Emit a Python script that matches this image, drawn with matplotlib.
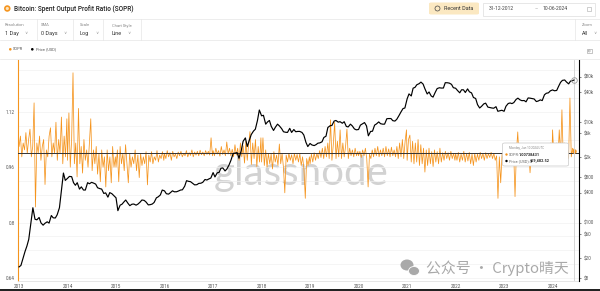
import pandas as pd
import matplotlib
matplotlib.use("Agg")
import matplotlib.pyplot as plt
import matplotlib.dates as mdates
from matplotlib.ticker import MultipleLocator, FixedLocator, FixedFormatter, NullFormatter
from matplotlib.patches import FancyBboxPatch, Rectangle, Ellipse
from matplotlib.lines import Line2D

plt.rcParams['font.family'] = ['Roboto', 'DejaVu Sans']

ORANGE = '#f5941d'

# SOPR, roughly every 10 days, one list per year
sopr_2013 = [1.02, 1.05, 0.99, 1.03, 1.01, 1.06, 1.00, 1.04, 1.07, 0.99, 1.02, 1.146,
             0.845, 1.03, 1.00, 1.05, 0.98, 1.02, 1.04, 0.91, 1.01, 0.99, 1.05, 1.074,
             0.99, 1.03, 1.00, 1.09, 0.98, 1.04, 1.00, 1.105, 0.97, 1.05, 0.99, 1.10]
sopr_2014 = [0.98, 1.117, 0.96, 1.04, 1.233, 0.97, 1.03, 0.932, 1.13, 0.97, 1.02, 0.943,
             1.04, 0.98, 1.01, 0.96, 1.03, 1.10, 0.95, 1.01, 0.97, 1.02, 0.94, 1.00,
             0.918, 1.01, 0.96, 0.99, 0.903, 1.01, 0.95, 0.99, 0.915, 1.02, 0.96, 0.99]
sopr_2015 = [0.96, 1.01, 0.918, 1.02, 0.97, 1.00, 0.95, 1.025, 0.97, 0.915, 1.00, 0.96,
             0.99, 0.97, 1.01, 0.95, 0.995, 0.93, 1.00, 0.965, 0.99, 0.97, 1.005, 0.909,
             0.995, 0.975, 1.005, 0.97, 0.99, 0.98, 1.008, 0.975, 0.995, 0.985, 1.005, 0.98]
sopr_2016 = [1.0, 0.985, 1.008, 0.99, 1.002, 0.98, 1.006, 0.99, 0.998, 0.985, 1.004, 0.993,
             1.006, 0.99, 1.0, 0.993, 1.008, 0.99, 1.002, 0.994, 1.01, 0.99, 1.004, 0.995,
             1.006, 0.993, 1.009, 0.996, 1.004, 0.993, 1.008, 0.997, 1.006, 0.995, 1.045, 0.993]
sopr_2017 = [1.008, 0.993, 1.015, 0.998, 1.008, 0.992, 1.02, 0.997, 1.01, 0.993, 1.033, 0.998,
             1.015, 0.993, 1.012, 0.99, 1.025, 0.995, 1.015, 0.98, 1.03, 0.99, 1.022, 0.972,
             1.035, 0.98, 1.025, 1.063, 0.968, 1.03, 0.985, 1.04, 0.962, 1.02, 0.975, 1.045]
sopr_2018 = [0.975, 1.045, 0.965, 1.01, 0.96, 1.0, 0.97, 0.998, 0.955, 1.005, 0.975, 0.995,
             0.965, 1.027, 0.97, 1.0, 0.96, 0.886, 0.995, 0.975, 1.0, 0.98, 0.996, 0.97,
             1.0, 0.98, 0.997, 0.975, 0.999, 0.965, 0.99, 0.955, 0.87, 0.985, 0.965, 0.99]
sopr_2019 = [0.97, 0.998, 0.975, 1.002, 0.98, 1.0, 0.985, 1.008, 0.988, 1.015, 0.985, 1.02,
             0.99, 1.03, 0.985, 1.097, 0.98, 1.025, 1.09, 0.985, 1.035, 0.99, 1.068, 0.985,
             1.03, 0.99, 1.02, 1.07, 0.985, 1.015, 0.993, 1.01, 0.99, 1.015, 0.993, 1.006]
sopr_2020 = [0.993, 1.006, 0.988, 1.01, 0.993, 1.015, 0.985, 0.903, 0.998, 0.985, 1.01, 0.99,
             1.015, 0.993, 1.02, 0.99, 1.01, 0.993, 1.015, 0.99, 1.02, 0.993, 1.013, 0.99,
             1.018, 0.993, 1.01, 0.99, 1.02, 0.985, 1.03, 0.99, 1.04, 0.985, 1.035, 1.068]
sopr_2021 = [0.98, 1.04, 1.053, 0.975, 1.035, 0.97, 1.03, 0.975, 1.04, 0.965, 1.025, 0.97,
             1.015, 0.946, 1.01, 0.965, 1.015, 0.97, 1.005, 0.962, 1.01, 0.975, 1.005, 0.97,
             1.015, 0.975, 1.002, 0.98, 1.006, 0.985, 1.002, 0.98, 1.006, 0.985, 1.0, 0.98]
sopr_2022 = [1.0, 0.98, 1.003, 0.975, 0.998, 0.98, 1.006, 0.975, 1.0, 0.978, 1.003, 0.97,
             0.998, 0.965, 1.0, 0.975, 0.998, 0.98, 1.003, 0.985, 1.0, 0.98, 1.002, 0.985,
             0.999, 0.988, 1.003, 0.985, 1.0, 0.98, 0.993, 0.87, 0.99, 0.915, 0.998, 0.975]
sopr_2023 = [0.985, 1.006, 0.975, 1.01, 0.97, 1.005, 0.975, 1.007, 0.875, 1.003, 1.062, 0.98,
             1.01, 0.985, 1.007, 0.988, 1.015, 0.988, 1.006, 0.944, 1.008, 0.99, 1.012, 0.993,
             1.007, 0.99, 1.015, 0.993, 1.02, 0.99, 1.015, 0.993, 1.025, 0.99, 1.03, 0.993]
sopr_2024 = [1.068, 0.99, 1.02, 1.03, 0.985, 1.068, 0.99, 1.126, 0.985, 1.03, 0.99, 1.02,
             0.985, 1.16, 0.99, 1.015, 1.00738431]

# BTC price in USD, on the 1st and 15th of each month
price_2013 = [13.3, 14.2, 20.4, 27, 34.5, 47, 104, 200, 118, 115, 128, 100,
              90, 98, 105, 99, 140, 126, 125, 145, 200, 420, 980, 700]
price_2014 = [770, 840, 830, 630, 560, 630, 470, 520, 450, 450, 630, 600,
              640, 620, 590, 500, 480, 470, 385, 395, 325, 400, 380, 350]
price_2015 = [315, 175, 225, 235, 260, 285, 245, 220, 235, 237, 225, 236,
              258, 285, 280, 260, 228, 230, 237, 255, 315, 330, 360, 450]
price_2016 = [433, 380, 373, 400, 434, 415, 416, 430, 450, 455, 536, 690,
              670, 660, 610, 570, 575, 610, 615, 640, 730, 712, 750, 780]
price_2017 = [1000, 820, 990, 1010, 1220, 1240, 1080, 1180, 1420, 1750, 2400, 2450,
              2500, 1930, 2750, 4200, 4900, 3300, 4400, 5700, 6700, 7300, 10900, 17600]
price_2018 = [13500, 13800, 9200, 10200, 10900, 8300, 6900, 8000, 9200, 8500, 7500, 6500,
              6350, 6300, 7600, 6300, 7200, 6500, 6600, 6600, 6300, 5600, 4000, 3300]
price_2019 = [3800, 3550, 3450, 3600, 3850, 3900, 4100, 5000, 5300, 7900, 8550, 8700,
              10600, 10900, 10100, 10300, 9600, 10300, 8300, 8100, 9200, 8500, 7400, 7100]
price_2020 = [7200, 8800, 9400, 9900, 8500, 5400, 6600, 6650, 8800, 9300, 10200, 9400,
              9200, 9200, 11800, 11900, 11900, 10800, 10600, 11500, 13700, 16000, 18800, 19300]
price_2021 = [29400, 36800, 33500, 47900, 49600, 56000, 58800, 63200, 57800, 46400, 36700, 40200,
              33500, 31800, 39800, 47000, 48800, 48100, 48200, 61500, 61300, 60300, 57000, 48900]
price_2022 = [47700, 43100, 38700, 44500, 44400, 39300, 46300, 40500, 38500, 31300, 29800, 22500,
              19300, 20800, 23300, 24100, 20100, 19700, 19300, 19100, 20500, 16600, 17000, 17400]
price_2023 = [16600, 20900, 23700, 24300, 23600, 24700, 28500, 30300, 28000, 27000, 27200, 25600,
              30600, 30300, 29700, 29200, 25900, 26600, 28000, 27100, 35400, 37900, 38700, 42300]
price_2024 = [44200, 42500, 43100, 51900, 62400, 68400, 69700, 63400, 58300, 66200, 67700]
last_date = '2024-06-10'
last_sopr = 1.00738431
last_price = 69482.52

years = list(range(2013, 2025))
sopr_lists = [sopr_2013, sopr_2014, sopr_2015, sopr_2016, sopr_2017, sopr_2018,
              sopr_2019, sopr_2020, sopr_2021, sopr_2022, sopr_2023, sopr_2024]
price_lists = [price_2013, price_2014, price_2015, price_2016, price_2017, price_2018,
               price_2019, price_2020, price_2021, price_2022, price_2023, price_2024]

sopr_parts = []
for y, vals in zip(years, sopr_lists):
    end = last_date if y == 2024 else f'{y}-12-27'
    idx = pd.date_range(f'{y}-01-01', end, periods=len(vals))
    sopr_parts.append(pd.Series(vals, index=idx))
sopr = pd.concat(sopr_parts)

price_parts = []
for y, vals in zip(years, price_lists):
    idx = pd.date_range(f'{y}-01-01', periods=len(vals), freq='SMS')
    price_parts.append(pd.Series(vals, index=idx))
price_parts.append(pd.Series([last_price], index=pd.to_datetime([last_date])))
price = pd.concat(price_parts)

W, H = 600, 291
fig = plt.figure(figsize=(W / 100, H / 100), dpi=100)


def fx(x):
    return x / W


def fy(y):
    return 1 - y / H


# ---- main chart
ax = fig.add_axes([fx(18), fy(281), (579 - 18) / W, (281 - 60) / H])
ax.plot(sopr.index, sopr.values, color=ORANGE, lw=0.55, zorder=2)
ax.axhline(1.0, color='#333333', lw=0.7, zorder=3)
ax.set_ylim(0.631, 1.27)
ax.set_xlim(pd.Timestamp('2012-12-24'), pd.Timestamp('2024-07-18'))
ax.yaxis.set_major_locator(FixedLocator([0.64, 0.8, 0.96, 1.12]))
ax.yaxis.set_major_formatter(FixedFormatter(['0.64', '0.8', '0.96', '1.12']))
ax.yaxis.set_minor_locator(MultipleLocator(0.04))
ax.grid(which='both', axis='y', color='#f1f1f1', lw=0.5, zorder=0)
ax.set_axisbelow(True)
ax.tick_params(axis='y', which='both', length=0, labelsize=3.3, colors='#555555', pad=2.2)
ax.xaxis.set_major_locator(mdates.YearLocator())
ax.xaxis.set_major_formatter(mdates.DateFormatter('%Y'))
ax.tick_params(axis='x', length=0, labelsize=3.3, colors='#555555', pad=2.5)
for s in ['top', 'right']:
    ax.spines[s].set_visible(False)
ax.spines['left'].set_color(ORANGE)
ax.spines['left'].set_linewidth(0.8)
ax.spines['bottom'].set_color('#e2e2e2')
ax.spines['bottom'].set_linewidth(0.6)
ax.plot([pd.Timestamp(last_date)], [last_sopr], 'o', color=ORANGE, ms=2.2, zorder=4)

# watermark behind the lines
ax.text(fx(301), fy(173), 'glassnode', transform=fig.transFigure, ha='center', va='center',
        fontsize=29, family='Lato', color='#d2d2d2', zorder=0.5)

ax2 = ax.twinx()
ax2.set_yscale('log')
ax2.plot(price.index, price.values, color='black', lw=0.85)
ax2.set_ylim(6.97, 174000)
pticks = [8, 20, 60, 100, 400, 800, 2000, 6000, 10000, 40000, 80000]
plabels = ['$8', '$20', '$60', '$100', '$400', '$800', '$2k', '$6k', '$10k', '$40k', '$80k']
ax2.yaxis.set_major_locator(FixedLocator(pticks))
ax2.yaxis.set_major_formatter(FixedFormatter(plabels))
ax2.yaxis.set_minor_formatter(NullFormatter())
ax2.tick_params(axis='y', which='minor', length=0)
ax2.tick_params(axis='y', which='major', length=1.5, width=0.5, labelsize=3.3,
                colors='#555555', pad=2)
for s in ['top', 'left', 'bottom']:
    ax2.spines[s].set_visible(False)
ax2.spines['right'].set_color('black')
ax2.spines['right'].set_linewidth(0.8)
ax2.axvline(pd.Timestamp(last_date), color='#cfcfcf', lw=0.6, zorder=1)
ax2.plot([pd.Timestamp(last_date)], [last_price], 'o', mfc='none', mec='#999999',
         ms=4, mew=0.6)

# ---- header
fig.patches.append(Ellipse((fx(7.3), fy(8.5)), 6.5 / W, 6.5 / H, transform=fig.transFigure,
                           facecolor=ORANGE, edgecolor='none'))
fig.patches.append(Ellipse((fx(7.3), fy(8.5)), 3.2 / W, 3.2 / H, transform=fig.transFigure,
                           facecolor='#fde3bd', edgecolor='none'))
fig.text(fx(14), fy(8.8), 'Bitcoin: Spent Output Profit Ratio (SOPR)', fontsize=4.7,
         fontweight='medium', color='#222222', va='center')

fig.patches.append(FancyBboxPatch((fx(429), fy(14.5)), 50 / W, 12 / H,
                                  boxstyle='round,pad=0,rounding_size=0.004',
                                  transform=fig.transFigure, facecolor='#fbe8c1',
                                  edgecolor='none'))
fig.patches.append(Ellipse((fx(437.5), fy(8.5)), 5 / W, 5 / H, transform=fig.transFigure,
                           facecolor='none', edgecolor='#444444', lw=0.5))
fig.text(fx(444), fy(8.6), 'Recent Data', fontsize=3.9, color='#333333', va='center')
fig.patches.append(Rectangle((fx(483), fy(15.5)), 112 / W, 13 / H, transform=fig.transFigure,
                             facecolor='white', edgecolor='#dddddd', lw=0.5))
fig.text(fx(488.5), fy(8.6), '31-12-2012', fontsize=3.6, color='#444444', va='center')
fig.text(fx(535), fy(8.6), '–', fontsize=3.6, color='#999999', va='center')
fig.text(fx(543), fy(8.6), '10-06-2024', fontsize=3.6, color='#444444', va='center')
fig.patches.append(Rectangle((fx(587), fy(11)), 4 / W, 4 / H, transform=fig.transFigure,
                             facecolor='none', edgecolor='#aaaaaa', lw=0.4))

for yy in [19, 40, 59.5]:
    fig.add_artist(Line2D([0, 1], [fy(yy), fy(yy)], color='#e6e6e6', lw=0.5,
                          transform=fig.transFigure))
for xx in [36.5, 73, 103, 141, 575]:
    fig.add_artist(Line2D([fx(xx), fx(xx)], [fy(19), fy(40)], color='#e6e6e6', lw=0.5,
                          transform=fig.transFigure))

controls = [(5, 'Resolution', '1 Day', 24), (41, 'SMA', '0 Days', 63),
            (80, 'Scale', 'Log', 95), (112, 'Chart Style', 'Line', 127),
            (582, 'Zoom', 'All', 593)]
for x0, lab, val, cx in controls:
    fig.text(fx(x0), fy(25.5), lab, fontsize=3.0, color='#888888', va='center')
    fig.text(fx(x0), fy(33.3), val, fontsize=4.0, color='#333333', va='center')
    fig.text(fx(cx), fy(33.3), '∨', fontsize=3.2, color='#999999', va='center',
             family='DejaVu Sans')

# legend
fig.patches.append(Ellipse((fx(10.3), fy(49.3)), 2.6 / W, 2.6 / H, transform=fig.transFigure,
                           facecolor=ORANGE, edgecolor='none'))
fig.text(fx(13.3), fy(49.3), 'SOPR', fontsize=2.9, color='#555555', va='center')
fig.patches.append(Ellipse((fx(32.3), fy(49.3)), 2.6 / W, 2.6 / H, transform=fig.transFigure,
                           facecolor='black', edgecolor='none'))
fig.text(fx(35.5), fy(49.3), 'Price (USD)', fontsize=2.9, color='#555555', va='center')
fig.patches.append(Rectangle((fx(586.5), fy(53)), 5.5 / W, 4 / H, transform=fig.transFigure,
                             facecolor='none', edgecolor='#999999', lw=0.4))
fig.patches.append(Ellipse((fx(589.2), fy(51)), 2 / W, 2 / H, transform=fig.transFigure,
                           facecolor='none', edgecolor='#999999', lw=0.4))

# tooltip
fig.patches.append(FancyBboxPatch((fx(502.5), fy(166)), 66 / W, 23 / H,
                                  boxstyle='round,pad=0,rounding_size=0.004',
                                  transform=fig.transFigure, facecolor='white',
                                  edgecolor='#c8c8c8', lw=0.5, zorder=5))
fig.text(fx(509), fy(147.5), 'Monday, Jun 10 2024 UTC', fontsize=2.2, color='#888888',
         va='center', zorder=6)
fig.patches.append(Ellipse((fx(506.5), fy(154.5)), 2.4 / W, 2.4 / H, transform=fig.transFigure,
                           facecolor=ORANGE, edgecolor='none', zorder=6))
fig.text(fx(509), fy(154.5), 'SOPR:', fontsize=2.8, color='#666666', va='center', zorder=6)
fig.text(fx(519), fy(154.5), '1.00738431', fontsize=2.8, fontweight='bold', color='#222222',
         va='center', zorder=6)
fig.patches.append(Ellipse((fx(506.5), fy(161)), 2.4 / W, 2.4 / H, transform=fig.transFigure,
                           facecolor='black', edgecolor='none', zorder=6))
fig.text(fx(509), fy(161), 'Price (USD):', fontsize=2.8, color='#666666', va='center', zorder=6)
fig.text(fx(529.5), fy(161), '$69,482.52', fontsize=2.8, fontweight='bold', color='#222222',
         va='center', zorder=6)

# wechat watermark
fig.patches.append(Ellipse((fx(407), fy(265)), 13 / W, 11 / H, transform=fig.transFigure,
                           facecolor='#a9a9a9', edgecolor='none', zorder=6))
fig.patches.append(Ellipse((fx(414), fy(271)), 11 / W, 9 / H, transform=fig.transFigure,
                           facecolor='#a9a9a9', edgecolor='white', lw=0.6, zorder=6))
fig.text(fx(426), fy(268), '公众号 · Crypto晴天', fontsize=10.7, color='#a9a9a9',
         va='center', family=['Noto Sans CJK SC', 'DejaVu Sans'], zorder=6)

# dark strip at the bottom of the screenshot
fig.patches.append(Rectangle((0, 0), 1, 2.5 / H, transform=fig.transFigure,
                             facecolor='#222222', edgecolor='none', zorder=7))

fig.savefig('out.png', dpi=100, facecolor='white')
